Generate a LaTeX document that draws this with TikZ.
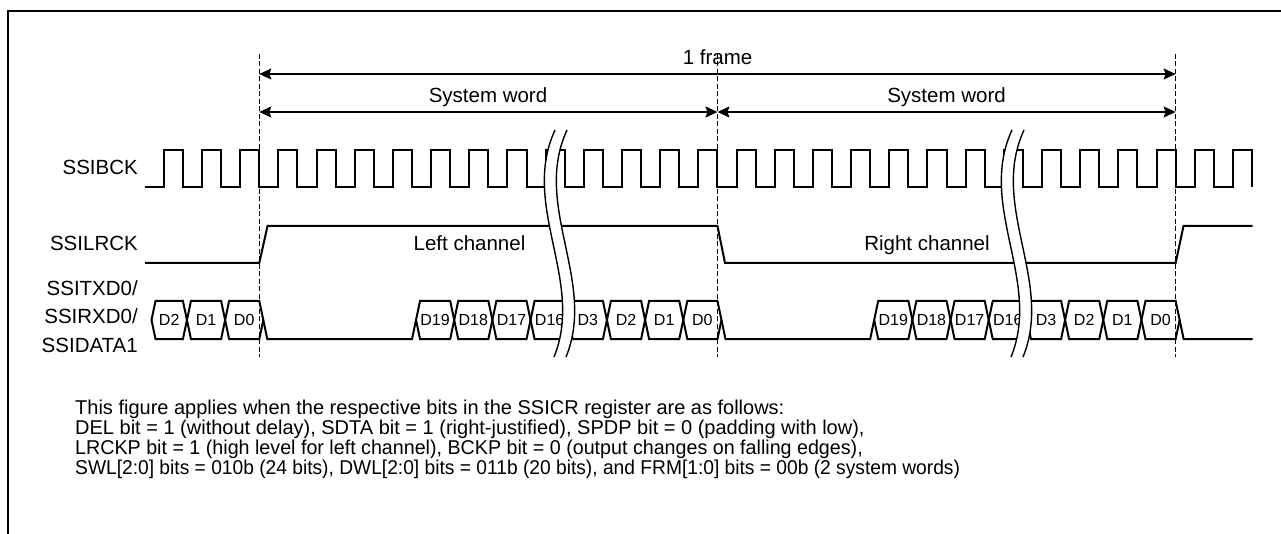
\documentclass[tikz,border=0pt]{standalone}
\usepackage{fontspec}
\setmainfont{Liberation Sans}
\usetikzlibrary{arrows.meta}
\newcommand{\hexcell}[3]{%
  \draw[sig] ({#1+4},320) -- ({#1+8},301) -- (#2,301) -- ({#2+4},320) -- (#2,339) -- ({#1+8},339) -- cycle;
  \node[dlbl] at ({(#1+8+#2)/2},320) {#3};}
\newcommand{\brkmark}[1]{%
  \begin{scope}[xshift=#1]
  \fill[white] (555,130) .. controls (520,205.7) and (585,281.3) .. (554,357) -- (566,357) .. controls (597,281.3) and (532,205.7) .. (567,130) -- cycle;
  \draw[brk] (555,130) .. controls (520,205.7) and (585,281.3) .. (554,357);
  \draw[brk] (567,130) .. controls (532,205.7) and (597,281.3) .. (566,357);
  \end{scope}}
\begin{document}
\begin{tikzpicture}[x=1pt,y=-1pt,
  sig/.style={line width=2pt, line join=miter},
  brk/.style={line width=1.4pt},
  dashv/.style={line width=1.3pt, dash pattern=on 5pt off 2.5pt},
  dim/.style={line width=1.8pt, {Stealth[length=12pt,width=11pt,inset=2pt]}-{Stealth[length=12pt,width=11pt,inset=2pt]}},
  lbl/.style={font=\fontsize{20.5}{24}\selectfont, inner sep=0pt},
  dlbl/.style={font=\fontsize{16}{18}\selectfont, inner sep=0pt},
  note/.style={font=\fontsize{20}{24}\selectfont, inner sep=0pt, anchor=base west}]
\useasboundingbox (0,0) rectangle (1281,534);
% frame
\draw[line width=2.5pt] (8,534) -- (8,11) -- (1281,11);
% dashed guides
\coordinate (g1t) at (259.3,54);  \coordinate (g1b) at (259.3,357);
\coordinate (g2t) at (717.46,54); \coordinate (g2b) at (717.46,357);
\coordinate (g3t) at (1175.62,54); \coordinate (g3b) at (1175.62,357);
\draw[dashv] (g1t) -- (g1b);
\draw[dashv] (g2t) -- (g2b);
\draw[dashv] (g3t) -- (g3b);
% dimension arrows
\coordinate (a1l) at (259.3,74);   \coordinate (a1r) at (1175.62,74);
\coordinate (a2l) at (259.3,112);  \coordinate (a2m) at (717.46,112); \coordinate (a2r) at (1175.62,112);
\draw[dim] (a1l) -- (a1r);
\draw[dim] (a2l) -- (a2m);
\draw[dim] (a2m) -- (a2r);
\node[lbl, anchor=base] (fr) at (717.5,64.5) {1 frame};
\node[lbl, anchor=base] (sw1) at (488,102.7) {System word};
\node[lbl, anchor=base] (sw2) at (946.5,102.7) {System word};
% SSIBCK
\draw[sig] (144.76,187) \foreach \k in {-3,...,25} { -- ++(19.09,0) -- ++(0,-37) -- ++(19.09,0) -- ++(0,37) };
% SSILRCK
\draw[sig] (145,263) -- (259.3,263) -- (267.5,226) -- (717.46,226) -- (725,263) -- (1175.62,263) -- (1183.5,226) -- (1252.7,226);
\node[lbl, anchor=base] (lc) at (469.5,250.5) {Left channel};
\node[lbl, anchor=base] (rc) at (927,250.5) {Right channel};
% data
\hexcell{147.5}{182.94}{D2}
\hexcell{182.94}{221.12}{D1}
\hexcell{221.12}{259.30}{D0}
\draw[sig] (263.3,320) -- (267.3,339) -- (412.02,339) -- (416.02,320);
\hexcell{412.02}{450.20}{D19}
\hexcell{450.20}{488.38}{D18}
\hexcell{488.38}{526.56}{D17}
\hexcell{526.56}{564.74}{D16}
\hexcell{564.74}{602.92}{D3}
\hexcell{602.92}{641.10}{D2}
\hexcell{641.10}{679.28}{D1}
\hexcell{679.28}{717.46}{D0}
\draw[sig] (721.46,320) -- (725.46,339) -- (870.18,339) -- (874.18,320);
\hexcell{870.18}{908.36}{D19}
\hexcell{908.36}{946.54}{D18}
\hexcell{946.54}{984.72}{D17}
\hexcell{984.72}{1022.90}{D16}
\hexcell{1022.90}{1061.08}{D3}
\hexcell{1061.08}{1099.26}{D2}
\hexcell{1099.26}{1137.44}{D1}
\hexcell{1137.44}{1175.62}{D0}
\draw[sig] (1179.62,320) -- (1183.62,339) -- (1252.7,339);
% breaks
\brkmark{0pt}
\brkmark{457pt}
% signal names
\node[lbl, anchor=base east] (nbck) at (138,175) {SSIBCK};
\node[lbl, anchor=base east] (nlr) at (138,250.5) {SSILRCK};
\node[lbl, anchor=base east] (ntx) at (138,295) {SSITXD0/};
\node[lbl, anchor=base east] (nrx) at (138,323.5) {SSIRXD0/};
\node[lbl, anchor=base east] (nda) at (138,352) {SSIDATA1};
% note
\node[note] (n1) at (75,414) {This figure applies when the respective bits in the SSICR register are as follows:};
\node[note] (n2) at (75,434) {DEL bit = 1 (without delay), SDTA bit = 1 (right-justified), SPDP bit = 0 (padding with low),};
\node[note] (n3) at (75,454) {\scalebox{0.984}[1]{LRCKP bit = 1 (high level for left channel), BCKP bit = 0 (output changes on falling edges),}};
\node[note] (n4) at (75,474) {\scalebox{0.96}[1]{SWL[2:0] bits = 010b (24 bits), DWL[2:0] bits = 011b (20 bits), and FRM[1:0] bits = 00b (2 system words)}};
\end{tikzpicture}
\end{document}
